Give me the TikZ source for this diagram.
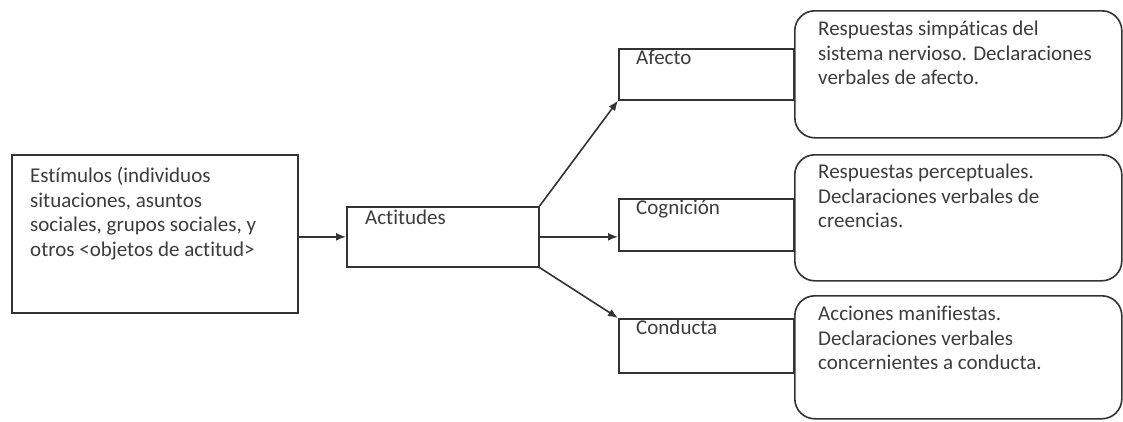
\documentclass[tikz,border=0pt]{standalone}
\usepackage{fontspec}
\setmainfont{Carlito}[Ligatures=NoCommon]
\usetikzlibrary{arrows.meta}
\definecolor{ln}{HTML}{333333}
\definecolor{tx}{HTML}{3C3C3C}
\tikzset{
  box/.style={draw=ln, line width=1.6pt, inner sep=0, anchor=north west},
  rbox/.style={box, rounded corners=20pt},
  txt/.style={inner sep=0, anchor=north west, align=left, text=tx,
    font=\fontsize{21}{24.5}\selectfont},
  arr/.style={draw=ln, line width=1.6pt, -{Latex[length=10pt,width=8pt]}}
}
\begin{document}
\begin{tikzpicture}[x=1pt,y=-1pt]
\useasboundingbox (0,0) rectangle (1123,421);
\node[box, minimum width=286pt, minimum height=158pt] (stim) at (11,154) {};
\node[txt] (stimt) at (30,167) {Estímulos (individuos\\situaciones, asuntos\\sociales, grupos sociales, y\\otros <objetos de actitud>};
\node[box, minimum width=192pt, minimum height=60pt] (act) at (346,206) {};
\node[txt] (actt) at (365,210) {Actitudes};
\node[box, minimum width=175pt, minimum height=51pt] (afe) at (618,48) {};
\node[txt] (afet) at (636,50) {Afecto};
\node[box, minimum width=175pt, minimum height=52pt] (cog) at (618,198) {};
\node[txt] (cogt) at (636,199.5) {Cognición};
\node[box, minimum width=175pt, minimum height=54pt] (con) at (618,318) {};
\node[txt] (cont) at (636,320) {Conducta};
\node[rbox, minimum width=327pt, minimum height=127pt] (ra) at (794,10) {};
\node[txt] (rat) at (818,21) {Respuestas simpáticas del\\sistema nervioso. Declaraciones\\verbales de afecto.};
\node[rbox, minimum width=327pt, minimum height=126pt] (rb) at (794,154) {};
\node[txt] (rbt) at (818,164) {Respuestas perceptuales.\\Declaraciones verbales de\\creencias.};
\node[rbox, minimum width=327pt, minimum height=123pt] (rc) at (794,295) {};
\node[txt] (rct) at (818,306) {Acciones manifiestas.\\Declaraciones verbales\\concernientes a conducta.};
\draw[arr] (stim.east |- act.west) -- (act.west);
\draw[arr] (act.east) -- (act.east -| cog.west);
\draw[arr] (act.north east) -- (afe.south west);
\draw[arr] (act.south east) -- (con.north west);
\end{tikzpicture}
\end{document}
